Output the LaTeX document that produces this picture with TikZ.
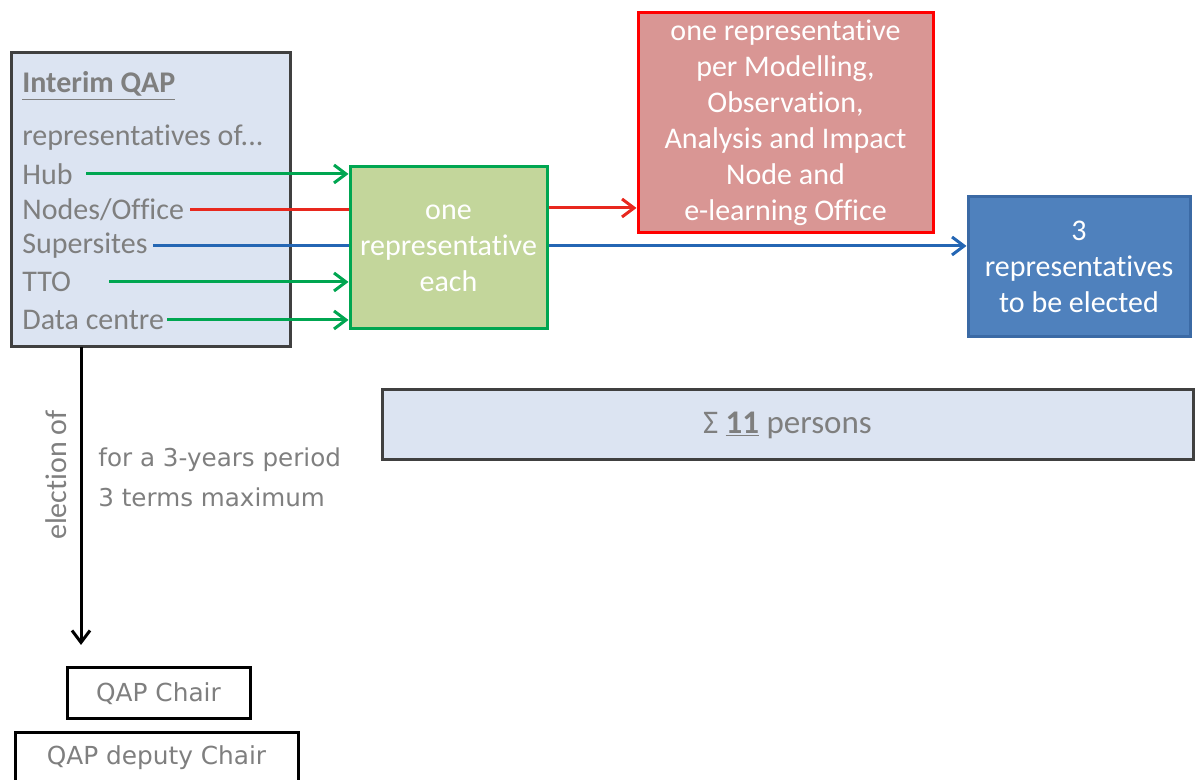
\documentclass[tikz,border=0pt]{standalone}
\usepackage{fontspec}
\setmainfont{Carlito}[Ligatures=CommonOff]
\newfontfamily\tahomalike{DejaVu Sans}
\usetikzlibrary{arrows.meta}
\definecolor{txtgray}{HTML}{7F7F7F}
\definecolor{panelfill}{HTML}{DCE4F2}
\definecolor{paneldraw}{HTML}{404040}
\definecolor{grfill}{HTML}{C3D69B}
\definecolor{grdraw}{HTML}{00A651}
\definecolor{rdfill}{HTML}{D99694}
\definecolor{rddraw}{HTML}{FF0000}
\definecolor{blfill}{HTML}{4F81BD}
\definecolor{bldraw}{HTML}{3B6AA5}
\definecolor{blline}{HTML}{2466B4}
\definecolor{rdline}{HTML}{E8281E}
\tikzset{
  panel/.style={draw=paneldraw, fill=panelfill, line width=1.5pt, inner sep=0pt},
  lbl/.style={anchor=west, text=txtgray, font=\fontsize{15}{18}\selectfont, inner sep=0pt},
  whitebox/.style={text=white, align=center, font=\fontsize{15}{18}\selectfont, inner sep=0pt, line width=1.5pt},
  chairbox/.style={draw=black, fill=white, line width=1.5pt, inner sep=0pt, text=txtgray, font=\tahomalike\fontsize{12.4}{14}\selectfont},
  garrow/.style={draw=grdraw, line width=1.5pt, -{Straight Barb[length=6pt,width=9pt,line width=1.5pt]}},
  rline/.style={draw=rdline, line width=1.5pt},
  bline/.style={draw=blline, line width=1.5pt},
  rarrow/.style={rline, -{Straight Barb[length=6pt,width=9pt,line width=1.5pt]}},
  barrowc/.style={bline, -{Straight Barb[length=6pt,width=9pt,line width=1.5pt]}},
  karrow/.style={draw=black, line width=1.5pt, -{Straight Barb[length=6pt,width=9pt,line width=1.5pt]}},
  note/.style={anchor=west, text=txtgray, font=\tahomalike\fontsize{12.3}{18}\selectfont, inner sep=0pt},
}
\begin{document}
\begin{tikzpicture}[x=0.5pt, y=-0.5pt]
\useasboundingbox (0,0) rectangle (1196,780);
% Interim QAP panel
\node[panel, minimum width=139.5pt, minimum height=147pt] (qap) at (150.5,200) {};
\node[lbl] (title) at (22,86) {\textbf{\underline{Interim QAP}}};
\node[lbl] (repof) at (22,138) {representatives of...};
\node[lbl] (hub) at (22,174) {Hub};
\node[lbl] (nodesoff) at (22,210) {Nodes/Office};
\node[lbl] (sup) at (22,246) {Supersites};
\node[lbl] (tto) at (22,282) {TTO};
\node[lbl] (dc) at (22,320) {Data centre};
% boxes
\node[whitebox, draw=grdraw, fill=grfill, minimum width=98.5pt, minimum height=81pt] (green) at (448.5,248) {one\\representative\\each};
\node[whitebox, draw=rddraw, fill=rdfill, minimum width=147.5pt, minimum height=110pt] (red) at (785.5,123) {one representative\\per Modelling,\\Observation,\\Analysis and Impact\\Node and\\e-learning Office};
\node[whitebox, draw=bldraw, fill=blfill, minimum width=111pt, minimum height=70pt] (blue) at (1079,267) {3\\representatives\\to be elected};
\node[panel, minimum width=405.5pt, minimum height=35pt, text=txtgray, font=\fontsize{16.5}{18}\selectfont] (sum) at (787.5,425) {Σ \underline{\textbf{11}} persons};
% connectors into the green box
\draw[garrow] (hub.east) ++(13,0) -- (hub.east -| green.west);
\draw[rline] (nodesoff.east) ++(6,0) -- (nodesoff.east -| green.west);
\draw[bline] (sup.east) ++(5,0) -- (sup.east -| green.west);
\draw[garrow] (tto.east) ++(38,0) -- (tto.east -| green.west);
\draw[garrow] (dc.east) ++(3,0) -- (dc.east -| green.west);
% out of the green box
\draw[rarrow] (green.east |- nodesoff.east) ++(0,-2) -- (red.west |- 0,208);
\draw[barrowc] (green.east |- sup.east) -- (sup.east -| blue.west);
% election
\coordinate (etop) at (81,347);
\coordinate (ebot) at (81,645);
\draw[karrow] (etop) -- (ebot);
\node[text=txtgray, font=\fontsize{15}{18}\selectfont, rotate=90, inner sep=0pt] (elect) at (56,475) {election of};
\node[note] (period) at (98,460) {for a 3-years period};
\node[note] (terms) at (98,497) {3 terms maximum};
\node[chairbox, minimum width=91.5pt, minimum height=25.5pt] (chair) at (158.5,693.5) {QAP Chair};
\node[chairbox, minimum width=141.5pt, minimum height=25pt] (deputy) at (156.5,758) {QAP deputy Chair};
\end{tikzpicture}
\end{document}
